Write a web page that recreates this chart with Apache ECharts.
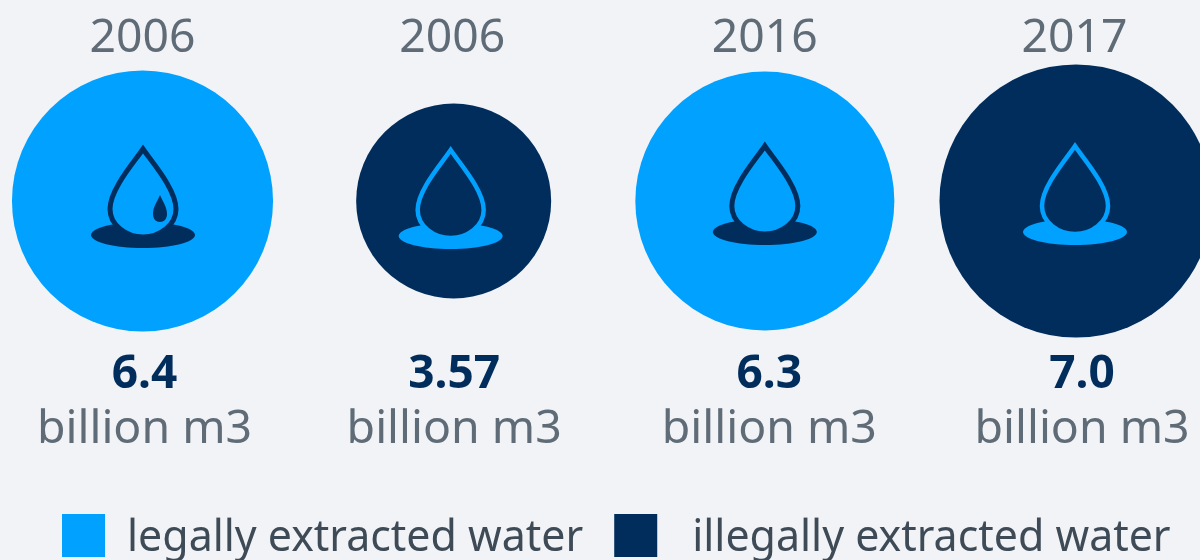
<!DOCTYPE html>
<html>
<head>
<meta charset="utf-8">
<style>
  html, body { margin: 0; padding: 0; background: #f1f3f6; }
  #chart { width: 1200px; height: 560px; }
</style>
</head>
<body>
<div id="chart"></div>
<script src="https://cdn.jsdelivr.net/npm/echarts@6/dist/echarts.min.js"></script>
<script>
const years = ['2006', '2006', '2016', '2017']
const volumes = [6.4, 3.57, 6.3, 7.0]
const volumeLabels = ['6.4', '3.57', '6.3', '7.0']
const kinds = ['legal', 'illegal', 'legal', 'illegal']
const unit = 'billion m3'
const legalName = 'legally extracted water'
const illegalName = 'illegally extracted water'

const LIGHT = '#00a1ff'
const DARK = '#002d5c'
const FONT = '"Noto Sans", sans-serif'
const ROW = 0.5

// icon nudges against the circle centre, the source art is not quite centred
const iconShift = [[0.5, 0], [-3, 1], [0, -3], [-1, -3]]
// same thing for the labels, left/right padding moves a centred label by half
const yearPad = [[0, 0], [0, 3], [0, 0], [0, 3]]
const valuePad = [[4, 0], [1, 0], [9, 0], [12, 0]]
const dropPath = 'M0,-52 C-8,-40 -33,-12 -33,8 C-33,24 -17,36 0,36 C17,36 33,24 33,8 C33,-12 8,-40 0,-52 Z'
const tinyDropPath = 'M17,-6 C14,1 10,6 10,13 C10,18 13,21 17,21 C21,21 24,18 24,13 C24,6 20,1 17,-6 Z'

function pointsOf(kind) {
  const ret = []
  for (let i = 0; i < volumes.length; i++) {
    if (kinds[i] === kind) ret.push([i, ROW, volumes[i]])
  }
  return ret
}

function circleSeries(name, kind, color) {
  return {
    name,
    type: 'scatter',
    clip: false,
    silent: true,
    data: pointsOf(kind),
    // circle area follows the value
    symbolSize: val => Math.sqrt(val[2]) * 103.2,
    itemStyle: { color, opacity: 1 }
  }
}

function paddedLabels(labels, pads) {
  return labels.map((value, i) => ({
    value,
    textStyle: { padding: [0, pads[i][1], 0, pads[i][0]] }
  }))
}

function renderIcon(params, api) {
  const i = api.value(0)
  const pos = api.coord([i, api.value(1)])
  const isLegal = kinds[i] === 'legal'
  const ink = isLegal ? DARK : LIGHT
  const back = isLegal ? LIGHT : DARK
  const children = [
    { type: 'ellipse', shape: { cx: 0, cy: 34, rx: 52, ry: 13 }, style: { fill: ink } },
    {
      type: 'path',
      shape: { pathData: dropPath },
      style: { fill: back, stroke: ink, lineWidth: isLegal ? 5 : 4.5, lineJoin: 'miter' }
    }
  ]
  if (i === 0) {
    children.push({ type: 'path', shape: { pathData: tinyDropPath }, style: { fill: ink } })
  }
  return {
    type: 'group',
    x: pos[0] + iconShift[i][0],
    y: pos[1] + iconShift[i][1],
    children
  }
}

const legendText = { fontFamily: FONT, fontSize: 42.9, color: '#3e4b57' }

const chart = echarts.init(document.getElementById('chart'))
chart.setOption({
  animation: false,
  backgroundColor: '#f1f3f6',
  textStyle: { fontFamily: FONT },
  grid: { left: 142.5, right: 124, top: 60, height: 282 },
  legend: {
    left: 62,
    top: 514,
    padding: 0,
    itemWidth: 43,
    itemHeight: 43,
    itemGap: 31,
    icon: 'rect',
    selectedMode: false,
    formatter: name => (name === legalName ? '{a|' : '{b|') + name + '}',
    textStyle: {
      ...legendText,
      rich: {
        a: { ...legendText, padding: [6, 0, 0, 17] },
        b: { ...legendText, padding: [6, 0, 0, 30] }
      }
    },
    data: [legalName, illegalName]
  },
  xAxis: [{
    type: 'category',
    position: 'top',
    boundaryGap: false,
    data: paddedLabels(years, yearPad),
    axisLine: { show: false },
    axisTick: { show: false },
    axisLabel: { interval: 0, margin: -2, fontFamily: FONT, fontSize: 46.3, color: '#5f6b76' }
  }, {
    type: 'category',
    position: 'bottom',
    boundaryGap: false,
    data: paddedLabels(volumeLabels, valuePad),
    axisLine: { show: false },
    axisTick: { show: false },
    axisLabel: {
      interval: 0,
      margin: 5,
      formatter: v => '{v|' + v + '}\n{u|' + unit + '}',
      rich: {
        v: { fontFamily: FONT, fontSize: 46, fontWeight: 'bold', color: DARK, lineHeight: 55 },
        u: { fontFamily: FONT, fontSize: 46.4, color: '#5f6b76', lineHeight: 55 }
      }
    }
  }],
  yAxis: { type: 'value', min: 0, max: 1, show: false },
  series: [
    circleSeries(legalName, 'legal', LIGHT),
    circleSeries(illegalName, 'illegal', DARK),
    {
      type: 'custom',
      silent: true,
      clip: false,
      renderItem: renderIcon,
      encode: { x: 0, y: 1 },
      z: 5,
      data: volumes.map((v, i) => [i, ROW])
    }
  ]
})
</script>
</body>
</html>
